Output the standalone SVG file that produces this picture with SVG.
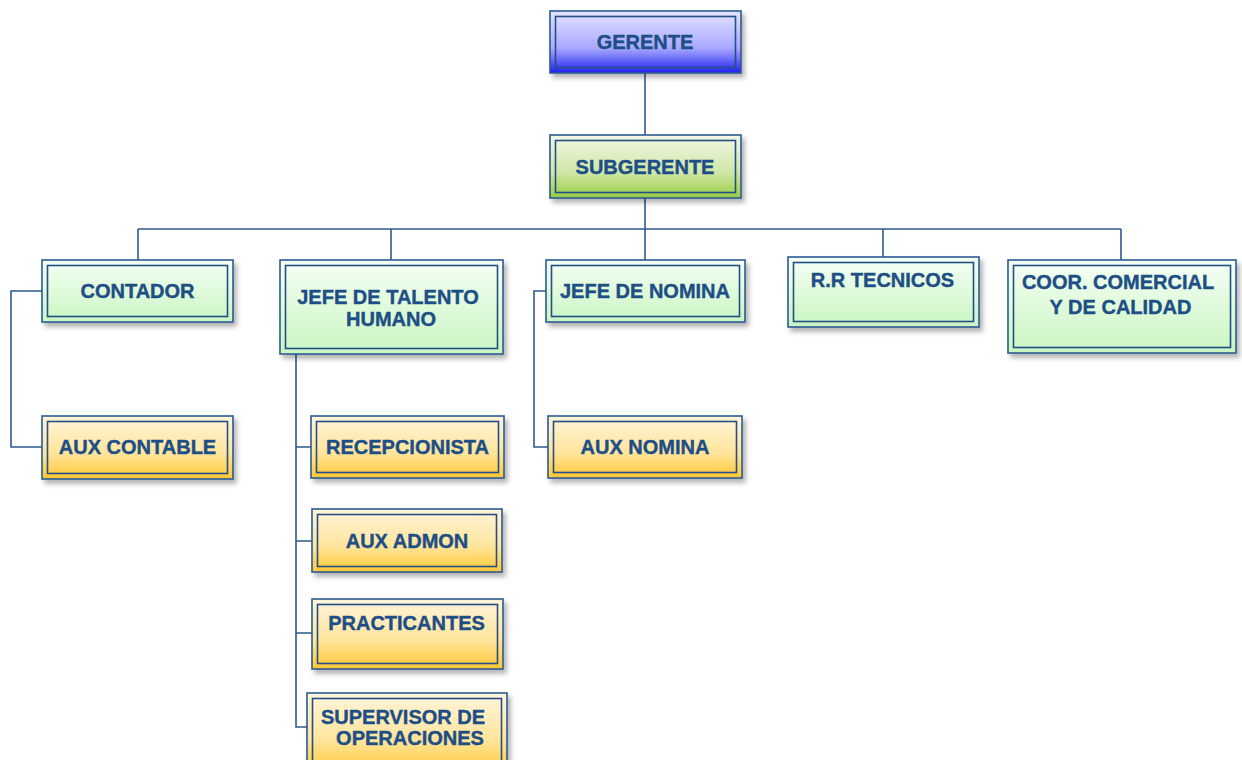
<svg xmlns="http://www.w3.org/2000/svg" width="1242" height="760" viewBox="0 0 1242 760">
<defs>
<linearGradient id="gBlue" x1="0" y1="0" x2="0" y2="1"><stop offset="0" stop-color="#e4e4ff"/><stop offset="0.6" stop-color="#a8a8ff"/><stop offset="1" stop-color="#1e1ef0"/></linearGradient>
<linearGradient id="gOlive" x1="0" y1="0" x2="0" y2="1"><stop offset="0" stop-color="#f2f8e6"/><stop offset="0.6" stop-color="#cfe6a6"/><stop offset="1" stop-color="#96cc3e"/></linearGradient>
<linearGradient id="gGreen" x1="0" y1="0" x2="0" y2="1"><stop offset="0" stop-color="#f5fff5"/><stop offset="1" stop-color="#caf5c2"/></linearGradient>
<linearGradient id="gOrange" x1="0" y1="0" x2="0" y2="1"><stop offset="0" stop-color="#fff5dc"/><stop offset="0.6" stop-color="#ffe49a"/><stop offset="1" stop-color="#ffc832"/></linearGradient>
<filter id="sh" x="-10%" y="-10%" width="130%" height="140%"><feDropShadow dx="3" dy="4" stdDeviation="2.5" flood-color="#000" flood-opacity="0.3"/></filter>
</defs>
<style>
.o{stroke:#2c5a93;stroke-width:1.6;filter:url(#sh)}
.i{fill:none;stroke:#234f86;stroke-width:1.6}
.t{font-family:"Liberation Sans",Arial,sans-serif;font-weight:bold;font-size:20px;fill:#1d4e85;stroke:#1d4e85;stroke-width:0.4;text-anchor:middle}
.c{fill:none;stroke:#2c5a93;stroke-width:1.6}
</style>
<g id="connectors">
<path class="c" d="M645 73V135M645 198V229M138 229H1121M138 229V260M391 229V260M645 229V260M883 229V257M1121 229V260"/>
<path class="c" d="M42 291H11V447H42"/>
<path class="c" d="M546 291H534V447H548"/>
<path class="c" d="M296 354V727H307M296 447H311M296 541H312M296 633H312"/>
</g>
<g id="gerente"><rect class="o" x="550" y="11" width="191" height="62" fill="url(#gBlue)"/><rect class="i" x="555.5" y="16.5" width="180" height="51"/><text class="t" x="645" y="49">GERENTE</text></g>
<g id="subgerente"><rect class="o" x="550" y="135" width="191" height="63" fill="url(#gOlive)"/><rect class="i" x="555.5" y="140.5" width="180" height="52"/><text class="t" x="645" y="174">SUBGERENTE</text></g>
<g id="contador"><rect class="o" x="42" y="260" width="191" height="62" fill="url(#gGreen)"/><rect class="i" x="47.5" y="265.5" width="180" height="51"/><text class="t" x="137.5" y="298">CONTADOR</text></g>
<g id="aux-contable"><rect class="o" x="42" y="416" width="191" height="63" fill="url(#gOrange)"/><rect class="i" x="47.5" y="421.5" width="180" height="52"/><text class="t" x="137.5" y="454">AUX CONTABLE</text></g>
<g id="jefe-talento"><rect class="o" x="280" y="260" width="223" height="94" fill="url(#gGreen)"/><rect class="i" x="285.5" y="265.5" width="212" height="83"/><text class="t" x="388" y="304">JEFE DE TALENTO</text><text class="t" x="391" y="326">HUMANO</text></g>
<g id="jefe-nomina"><rect class="o" x="546" y="260" width="199" height="62" fill="url(#gGreen)"/><rect class="i" x="551.5" y="265.5" width="188" height="51"/><text class="t" x="645" y="298">JEFE DE NOMINA</text></g>
<g id="rr-tecnicos"><rect class="o" x="788" y="257" width="191" height="70" fill="url(#gGreen)"/><rect class="i" x="793.5" y="262.5" width="180" height="59"/><text class="t" x="882.5" y="287">R.R TECNICOS</text></g>
<g id="coor-comercial"><rect class="o" x="1008" y="260" width="228" height="93" fill="url(#gGreen)"/><rect class="i" x="1013.5" y="265.5" width="217" height="82"/><text class="t" x="1118" y="289">COOR. COMERCIAL</text><text class="t" x="1120.5" y="314">Y DE CALIDAD</text></g>
<g id="aux-nomina"><rect class="o" x="548" y="416" width="194" height="62" fill="url(#gOrange)"/><rect class="i" x="553.5" y="421.5" width="183" height="51"/><text class="t" x="645" y="454">AUX NOMINA</text></g>
<g id="recepcionista"><rect class="o" x="311" y="416" width="193" height="62" fill="url(#gOrange)"/><rect class="i" x="316.5" y="421.5" width="182" height="51"/><text class="t" x="407.5" y="454">RECEPCIONISTA</text></g>
<g id="aux-admon"><rect class="o" x="312" y="509" width="190" height="63" fill="url(#gOrange)"/><rect class="i" x="317.5" y="514.5" width="179" height="52"/><text class="t" x="407" y="548">AUX ADMON</text></g>
<g id="practicantes"><rect class="o" x="312" y="599" width="191" height="70" fill="url(#gOrange)"/><rect class="i" x="317.5" y="604.5" width="180" height="59"/><text class="t" x="406.5" y="630">PRACTICANTES</text></g>
<g id="supervisor"><rect class="o" x="307" y="693" width="200" height="80" fill="url(#gOrange)"/><rect class="i" x="312.5" y="698.5" width="189" height="69"/><text class="t" x="403" y="724">SUPERVISOR DE</text><text class="t" x="410" y="745">OPERACIONES</text></g>
</svg>
